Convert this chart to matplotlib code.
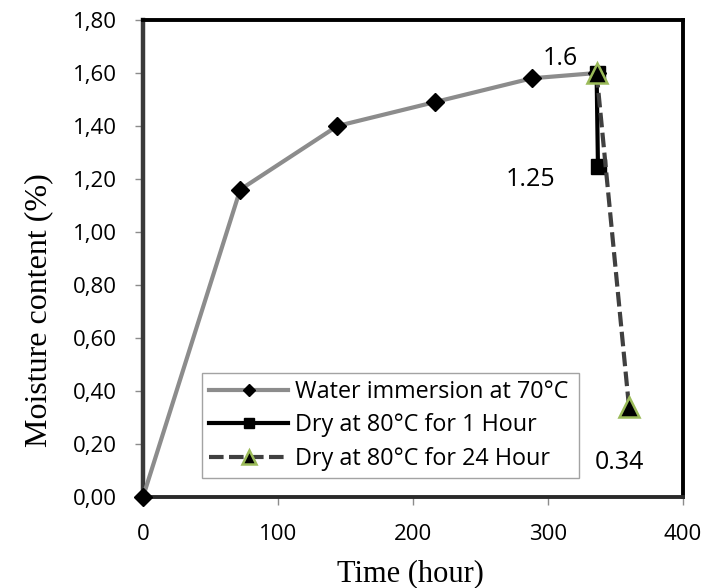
import numpy as np
import matplotlib.pyplot as plt
from matplotlib.ticker import FuncFormatter

# water immersion at 70C
t_water = [0, 72, 144, 216, 288, 336]
m_water = [0.0, 1.16, 1.40, 1.49, 1.58, 1.60]

# drying at 80C for 1 hour
t_dry1 = [336, 337]
m_dry1 = [1.60, 1.25]

# drying at 80C for 24 hour
t_dry24 = [336, 360]
m_dry24 = [1.60, 0.34]

labels = ['Water immersion at 70°C', 'Dry at 80°C for 1 Hour', 'Dry at 80°C for 24 Hour']
notes = [('1.6', 309, 1.653), ('1.25', 287, 1.20), ('0.34', 353, 0.132)]

sans = ['Open Sans', 'DejaVu Sans']
serif = 'Liberation Serif'

fig = plt.figure(figsize=(7.04, 5.88), dpi=100)
ax = fig.add_axes([143/704, 1-497/588, 540/704, 477/588])

ax.plot(t_water, m_water, color='#8c8c8c', lw=3, marker='D', ms=9,
        mfc='black', mec='black', label=labels[0], zorder=3, clip_on=False)
ax.plot(t_dry1, m_dry1, color='black', lw=3, marker='s', ms=10.8,
        mfc='black', mec='black', label=labels[1], zorder=4)
ax.plot(t_dry24, m_dry24, color='#404040', lw=3, ls=(0, (3.5, 1.3)), marker='^', ms=14,
        mfc='black', mec='#9bbb59', mew=1.8, label=labels[2], zorder=5)

for txt, x, y in notes:
    ax.text(x, y, txt, ha='center', va='center', fontsize=18, family=sans)

ax.set_xlim(0, 400)
ax.set_ylim(0, 1.8)
ax.set_xticks(np.arange(0, 401, 100))
ax.set_yticks(np.arange(0, 1.81, 0.2))
ax.yaxis.set_major_formatter(FuncFormatter(lambda v, p: f'{v:.2f}'.replace('.', ',')))
ax.tick_params(direction='out', length=5.5, width=1, color='#8c8c8c', labelsize=16)
ax.tick_params(axis='y', pad=13.5)
ax.tick_params(axis='x', pad=14)
for lab in ax.get_xticklabels() + ax.get_yticklabels():
    lab.set_family(sans)

for s in ['top', 'right']:
    ax.spines[s].set_linewidth(2.8)
    ax.spines[s].set_color('black')
ax.spines['left'].set_linewidth(3.2)
ax.spines['left'].set_color('#3a3a3a')
ax.spines['bottom'].set_linewidth(2.8)
ax.spines['bottom'].set_color('#2a2a2a')

ax.set_xlabel('Time (hour)', family=serif, fontsize=22, va='center')
ax.set_ylabel('Moisture content (%)', family=serif, fontsize=23, va='center')
ax.xaxis.set_label_coords(0.496, -0.160)
ax.yaxis.set_label_coords(-0.194, 0.392)

leg = ax.legend(loc='upper left', bbox_to_anchor=(0.109, 0.0419, 0.698, 0.218),
                mode='expand', prop={'family': sans, 'size': 16.8}, frameon=True,
                fancybox=False, edgecolor='#8c8c8c', handlelength=3.4,
                handletextpad=0.3, borderaxespad=0, labelspacing=0.4,
                borderpad=0.3, markerscale=0.7)
leg.get_frame().set_linewidth(1)
leg.set_zorder(2)

fig.savefig('out.png', dpi=100)
